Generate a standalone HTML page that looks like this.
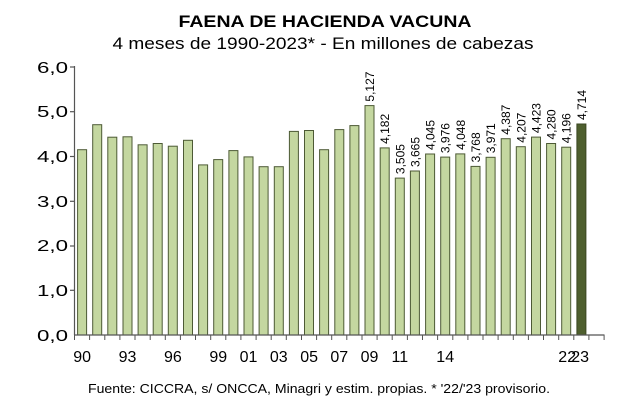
<!DOCTYPE html>
<html><head><meta charset="utf-8"><style>
html,body{margin:0;padding:0;background:#fff;}
svg{display:block;font-family:"Liberation Sans",Arial,sans-serif;}
</style></head><body>
<svg width="632" height="419" viewBox="0 0 632 419" xmlns="http://www.w3.org/2000/svg">
<text x="325" y="27" text-anchor="middle" font-size="17" font-weight="bold" textLength="293" lengthAdjust="spacingAndGlyphs">FAENA DE HACIENDA VACUNA</text>
<text x="323" y="49" text-anchor="middle" font-size="17" textLength="421" lengthAdjust="spacingAndGlyphs">4 meses de 1990-2023* - En millones de cabezas</text>
<g fill="#c4d7a0" stroke="#4d5a35" stroke-width="1">
<rect x="77.6" y="149.7" width="9" height="185.3"/>
<rect x="92.7" y="124.7" width="9" height="210.3"/>
<rect x="107.8" y="137.2" width="9" height="197.8"/>
<rect x="123.0" y="136.8" width="9" height="198.2"/>
<rect x="138.1" y="144.8" width="9" height="190.2"/>
<rect x="153.2" y="143.5" width="9" height="191.5"/>
<rect x="168.3" y="146.2" width="9" height="188.8"/>
<rect x="183.5" y="140.3" width="9" height="194.7"/>
<rect x="198.6" y="164.9" width="9" height="170.1"/>
<rect x="213.7" y="159.6" width="9" height="175.4"/>
<rect x="228.9" y="150.6" width="9" height="184.4"/>
<rect x="244.0" y="156.9" width="9" height="178.1"/>
<rect x="259.1" y="166.7" width="9" height="168.3"/>
<rect x="274.3" y="166.7" width="9" height="168.3"/>
<rect x="289.4" y="131.4" width="9" height="203.6"/>
<rect x="304.5" y="130.5" width="9" height="204.5"/>
<rect x="319.6" y="149.7" width="9" height="185.3"/>
<rect x="334.8" y="129.6" width="9" height="205.4"/>
<rect x="349.9" y="125.6" width="9" height="209.4"/>
<rect x="365.0" y="105.6" width="9" height="229.4"/>
<rect x="380.2" y="147.9" width="9" height="187.1"/>
<rect x="395.3" y="178.1" width="9" height="156.9"/>
<rect x="410.4" y="171.0" width="9" height="164.0"/>
<rect x="425.6" y="154.0" width="9" height="181.0"/>
<rect x="440.7" y="157.1" width="9" height="177.9"/>
<rect x="455.8" y="153.9" width="9" height="181.1"/>
<rect x="471.0" y="166.4" width="9" height="168.6"/>
<rect x="486.1" y="157.3" width="9" height="177.7"/>
<rect x="501.2" y="138.7" width="9" height="196.3"/>
<rect x="516.3" y="146.7" width="9" height="188.3"/>
<rect x="531.5" y="137.1" width="9" height="197.9"/>
<rect x="546.6" y="143.5" width="9" height="191.5"/>
<rect x="561.7" y="147.2" width="9" height="187.8"/>
<rect x="576.9" y="124.0" width="9" height="211.0" fill="#4e5f2e" stroke="#3a4722"/>
</g>
<g stroke="#555" stroke-width="1.2" fill="none">
<line x1="74.5" y1="66" x2="74.5" y2="335"/>
<line x1="74.5" y1="335" x2="604.5" y2="335"/>
<line x1="70" y1="67" x2="74.5" y2="67"/>
<line x1="70" y1="111.7" x2="74.5" y2="111.7"/>
<line x1="70" y1="156.5" x2="74.5" y2="156.5"/>
<line x1="70" y1="201.3" x2="74.5" y2="201.3"/>
<line x1="70" y1="246" x2="74.5" y2="246"/>
<line x1="70" y1="290.3" x2="74.5" y2="290.3"/>
</g>
<g stroke="#555" stroke-width="1">
<line x1="74.5" y1="335" x2="74.5" y2="340"/><line x1="89.6" y1="335" x2="89.6" y2="340"/><line x1="104.8" y1="335" x2="104.8" y2="340"/><line x1="119.9" y1="335" x2="119.9" y2="340"/><line x1="135.0" y1="335" x2="135.0" y2="340"/><line x1="150.2" y1="335" x2="150.2" y2="340"/><line x1="165.3" y1="335" x2="165.3" y2="340"/><line x1="180.4" y1="335" x2="180.4" y2="340"/><line x1="195.5" y1="335" x2="195.5" y2="340"/><line x1="210.7" y1="335" x2="210.7" y2="340"/><line x1="225.8" y1="335" x2="225.8" y2="340"/><line x1="240.9" y1="335" x2="240.9" y2="340"/><line x1="256.1" y1="335" x2="256.1" y2="340"/><line x1="271.2" y1="335" x2="271.2" y2="340"/><line x1="286.3" y1="335" x2="286.3" y2="340"/><line x1="301.5" y1="335" x2="301.5" y2="340"/><line x1="316.6" y1="335" x2="316.6" y2="340"/><line x1="331.7" y1="335" x2="331.7" y2="340"/><line x1="346.8" y1="335" x2="346.8" y2="340"/><line x1="362.0" y1="335" x2="362.0" y2="340"/><line x1="377.1" y1="335" x2="377.1" y2="340"/><line x1="392.2" y1="335" x2="392.2" y2="340"/><line x1="407.4" y1="335" x2="407.4" y2="340"/><line x1="422.5" y1="335" x2="422.5" y2="340"/><line x1="437.6" y1="335" x2="437.6" y2="340"/><line x1="452.8" y1="335" x2="452.8" y2="340"/><line x1="467.9" y1="335" x2="467.9" y2="340"/><line x1="483.0" y1="335" x2="483.0" y2="340"/><line x1="498.1" y1="335" x2="498.1" y2="340"/><line x1="513.3" y1="335" x2="513.3" y2="340"/><line x1="528.4" y1="335" x2="528.4" y2="340"/><line x1="543.5" y1="335" x2="543.5" y2="340"/><line x1="558.7" y1="335" x2="558.7" y2="340"/><line x1="573.8" y1="335" x2="573.8" y2="340"/><line x1="588.9" y1="335" x2="588.9" y2="340"/><line x1="604.1" y1="335" x2="604.1" y2="340"/>
</g>
<g font-size="16" text-anchor="end" fill="#000">
<text x="68" y="341" textLength="31" lengthAdjust="spacingAndGlyphs">0,0</text>
<text x="68" y="296" textLength="31" lengthAdjust="spacingAndGlyphs">1,0</text>
<text x="68" y="251" textLength="31" lengthAdjust="spacingAndGlyphs">2,0</text>
<text x="68" y="207" textLength="31" lengthAdjust="spacingAndGlyphs">3,0</text>
<text x="68" y="162" textLength="31" lengthAdjust="spacingAndGlyphs">4,0</text>
<text x="68" y="117" textLength="31" lengthAdjust="spacingAndGlyphs">5,0</text>
<text x="68" y="73" textLength="31" lengthAdjust="spacingAndGlyphs">6,0</text>
</g>
<g font-size="16" text-anchor="middle">
<text x="82.1" y="362">90</text>
<text x="127.5" y="362">93</text>
<text x="172.9" y="362">96</text>
<text x="218.3" y="362">99</text>
<text x="248.5" y="362">01</text>
<text x="278.8" y="362">03</text>
<text x="309.1" y="362">05</text>
<text x="339.3" y="362">07</text>
<text x="369.5" y="362">09</text>
<text x="399.8" y="362">11</text>
<text x="445.2" y="362">14</text>
<text x="567.2" y="362">22</text>
<text x="580.1" y="362">23</text>
</g>
<g font-size="12">
<text transform="translate(374.0,101.6) rotate(-90)">5,127</text>
<text transform="translate(389.2,143.9) rotate(-90)">4,182</text>
<text transform="translate(404.3,174.1) rotate(-90)">3,505</text>
<text transform="translate(419.4,167.0) rotate(-90)">3,665</text>
<text transform="translate(434.6,150.0) rotate(-90)">4,045</text>
<text transform="translate(449.7,153.1) rotate(-90)">3,976</text>
<text transform="translate(464.8,149.9) rotate(-90)">4,048</text>
<text transform="translate(480.0,162.4) rotate(-90)">3,768</text>
<text transform="translate(495.1,153.3) rotate(-90)">3,971</text>
<text transform="translate(510.2,134.7) rotate(-90)">4,387</text>
<text transform="translate(525.3,142.7) rotate(-90)">4,207</text>
<text transform="translate(540.5,133.1) rotate(-90)">4,423</text>
<text transform="translate(555.6,139.5) rotate(-90)">4,280</text>
<text transform="translate(570.7,143.2) rotate(-90)">4,196</text>
<text transform="translate(585.9,120.0) rotate(-90)">4,714</text>
</g>
<text x="319" y="393" text-anchor="middle" font-size="12.5" textLength="462" lengthAdjust="spacingAndGlyphs">Fuente: CICCRA, s/ ONCCA, Minagri y estim. propias. * '22/'23 provisorio.</text>
</svg>
</body></html>
